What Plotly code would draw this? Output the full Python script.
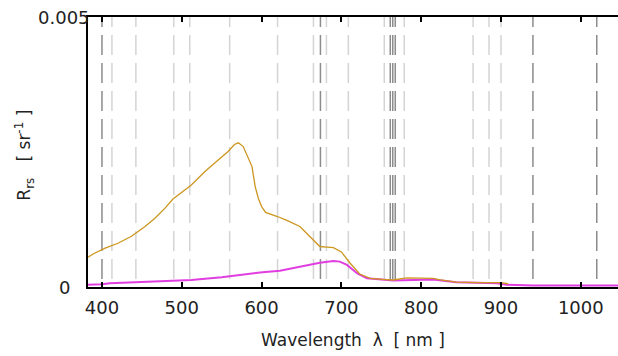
import plotly.graph_objects as go

# ---- data ----
orange_nm = [382.5, 390, 404, 420, 437, 454, 466, 479, 489, 504, 512, 529, 546, 558, 566,
             571, 577, 583, 588, 592, 596, 600, 605, 619, 631, 648, 661, 673, 682, 690,
             700, 711, 723, 736, 752, 765, 782, 815, 824, 844, 870, 899, 909]
orange_rrs = [0.00055, 0.00062, 0.00072, 0.00081, 0.00094, 0.00112, 0.00127, 0.00146, 0.00163,
              0.00180, 0.00189, 0.00214, 0.00235, 0.00251, 0.00264, 0.00267, 0.00260, 0.00241,
              0.00223, 0.00186, 0.00164, 0.00149, 0.00138, 0.00131, 0.00124, 0.00112, 0.00093,
              0.00075, 0.00074, 0.00073, 0.00065, 0.00044, 0.00024, 0.00016, 0.00014, 0.00013,
              0.00017, 0.00016, 0.00013, 0.00009, 0.00008, 0.00008, 0.00006]

magenta_nm = [382.5, 400, 410, 470, 512, 550, 575, 598, 623, 648, 673, 690, 698, 707, 720,
              732, 748, 765, 790, 815, 844, 870, 895, 907, 940, 1050]
magenta_rrs = [0.00004, 0.00005, 0.00007, 0.00010, 0.00013, 0.00018, 0.00023, 0.00027, 0.00030,
               0.00038, 0.00045, 0.00048, 0.00047, 0.00041, 0.00025, 0.00016, 0.00014, 0.00012,
               0.00013, 0.00014, 0.00009, 0.00008, 0.00007, 0.00004, 0.00003, 0.00003]

# sensor band centres (nm) and which of them are drawn darker
band_nm = [400, 412.5, 442.5, 490, 510, 560, 620, 665, 673.75, 681.25, 708.75,
           753.75, 761.25, 764.375, 767.5, 778.75, 865, 885, 900, 940, 1020]
dark_bands = [400, 673.75, 761.25, 764.375, 767.5, 940, 1020]

x_ticks = [400, 500, 600, 700, 800, 900, 1000]
y_ticks = [0, 0.005]
y_ticktext = ["0", "0.005"]

FONT = "DejaVu Sans"
TXT = "#222"

fig = go.Figure()

for b in band_nm:
    fig.add_shape(type="line", xref="x", yref="paper", x0=b, x1=b, y0=0, y1=1,
                  layer="below",
                  line=dict(color="#8c8c8c" if b in dark_bands else "#d4d4d4",
                            width=1.5, dash="0px,8px,20px,0px"))

fig.add_trace(go.Scatter(x=magenta_nm, y=magenta_rrs, mode="lines",
                         line=dict(color="#e03ee0", width=2), showlegend=False))
fig.add_trace(go.Scatter(x=orange_nm, y=orange_rrs, mode="lines",
                         line=dict(color="#cc961f", width=1.3), showlegend=False))

# y tick labels are centred in the reference, so place them as annotations
for v, t in zip(y_ticks, y_ticktext):
    fig.add_annotation(x=-0.045, xref="paper", y=v, yref="y", text=t, showarrow=False,
                       xanchor="center", yanchor="middle",
                       font=dict(family=FONT, size=18, color=TXT))

fig.add_annotation(x=-0.119, xref="paper", y=0.49, yref="paper",
                   text="R<sub>rs</sub>   [ sr<sup>-1</sup> ]", showarrow=False,
                   textangle=-90, xanchor="center", yanchor="middle",
                   font=dict(family=FONT, size=17, color=TXT))

fig.update_layout(
    width=618, height=356,
    margin=dict(l=88, r=0, t=17, b=69),
    paper_bgcolor="white", plot_bgcolor="white",
    font=dict(family=FONT, size=18, color=TXT),
    xaxis=dict(range=[382.5, 1046.6], tickvals=x_ticks, ticks="inside", ticklen=5,
               tickwidth=2, tickcolor="black", showline=True, linecolor="black",
               linewidth=2, mirror="ticks", showgrid=False, zeroline=False,
               automargin=False, ticklabelstandoff=3,
               tickfont=dict(family=FONT, size=18, color=TXT),
               title=dict(text="Wavelength  λ  [ nm ]", standoff=18,
                          font=dict(family=FONT, size=17, color=TXT))),
    yaxis=dict(range=[0, 0.005], tickvals=y_ticks, showticklabels=False, ticks="",
               showline=True, linecolor="black", linewidth=2, mirror=False,
               showgrid=False, zeroline=False, automargin=False),
)

fig.write_html("out.html", config={"responsive": False, "displayModeBar": False},
               post_script="document.body.style.margin='0';"
                           "document.body.style.overflow='hidden';")
